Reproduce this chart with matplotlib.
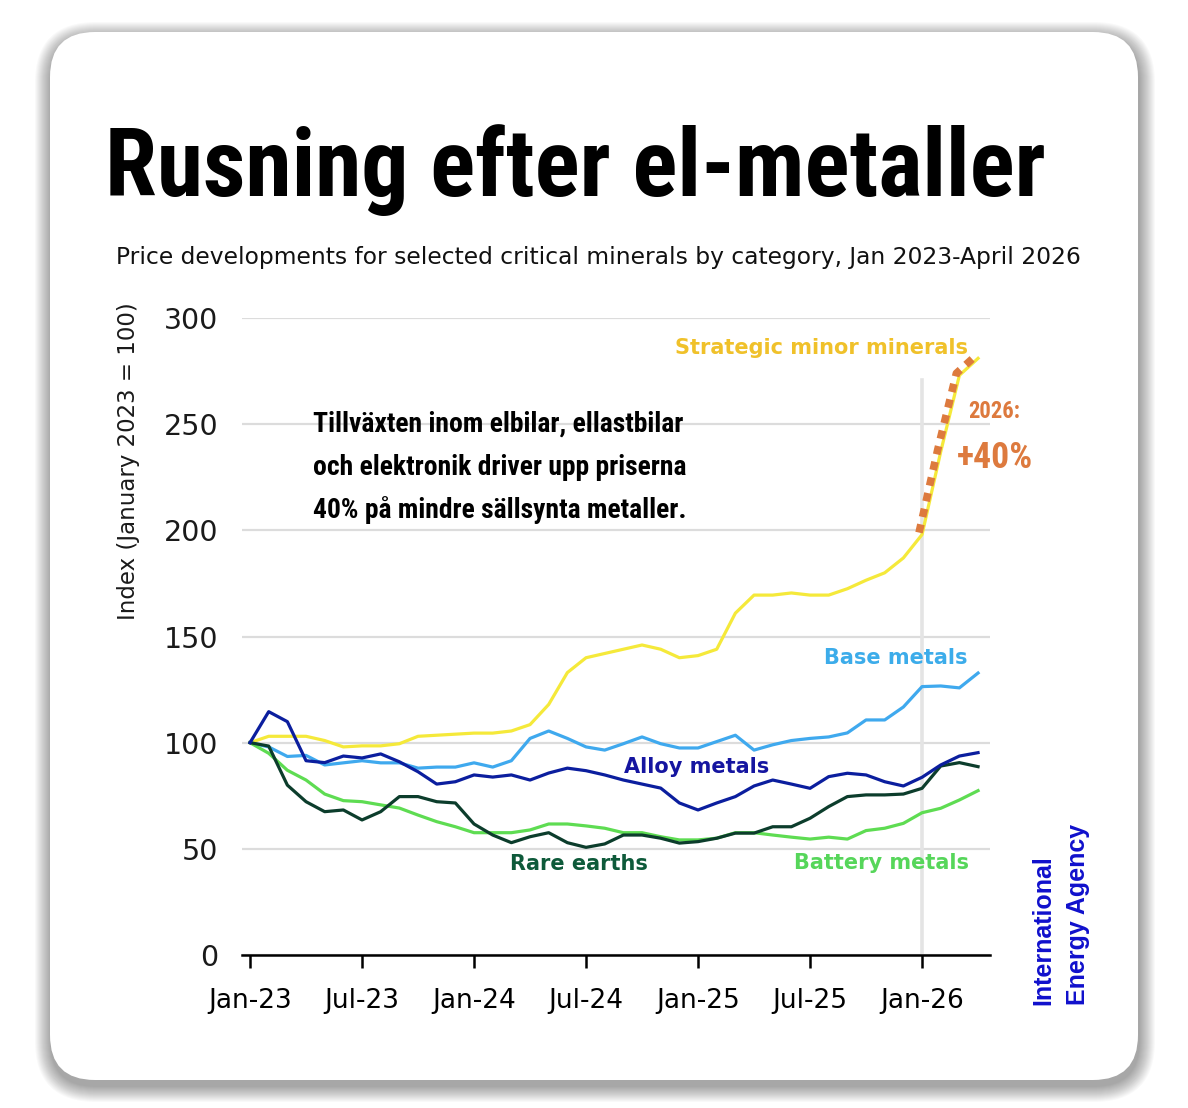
import os
import numpy as np
import matplotlib
matplotlib.use("Agg")
import matplotlib.pyplot as plt
from matplotlib import font_manager as fm
from matplotlib.patches import FancyBboxPatch
from matplotlib.transforms import offset_copy

# index values, Jan 2023 = 100, one per month Jan-23 .. Apr-26
strategic = [100, 103, 103, 103, 101, 98, 98.5, 98.5, 99.5, 103,
             103.5, 104, 104.5, 104.5, 105.5, 108.5, 118, 133, 140, 142,
             144, 146, 144, 140, 141, 144, 161, 169.5, 169.5, 170.5,
             169.5, 169.5, 172.5, 176.5, 180, 187, 198, 237, 273, 281]
base = [100, 98, 93.5, 94, 89.5, 90.5, 91.5, 90.5, 90.5, 88,
        88.5, 88.5, 90.5, 88.5, 91.5, 102, 105.5, 102, 98, 96.5,
        99.5, 102.7, 99.5, 97.5, 97.5, 100.5, 103.5, 96.5, 99, 101,
        102, 102.7, 104.6, 110.7, 110.7, 116.8, 126.4, 126.7, 125.8, 132.8]
alloy = [100, 114.6, 109.9, 91.5, 90.6, 93.7, 92.8, 94.7, 91, 86.3,
         80.5, 81.6, 84.8, 83.8, 84.8, 82.4, 85.7, 88, 86.8, 84.8,
         82.4, 80.5, 78.6, 71.6, 68.3, 71.6, 74.6, 79.6, 82.4, 80.5,
         78.5, 84, 85.6, 84.8, 81.6, 79.6, 83.7, 89.5, 93.7, 95.3]
rare = [100, 98.4, 80, 72.2, 67.5, 68.3, 63.6, 67.5, 74.6, 74.6,
        72.2, 71.6, 61.7, 56.5, 52.9, 55.7, 57.6, 52.9, 50.7, 52.3,
        56.5, 56.5, 55, 52.7, 53.4, 55, 57.4, 57.4, 60.4, 60.4,
        64.4, 69.9, 74.6, 75.4, 75.4, 75.8, 78.5, 89, 90.6, 88.7]
battery = [100, 95, 87, 82.4, 75.8, 72.7, 72.2, 70.7, 69.2, 65.9,
           62.8, 60.4, 57.6, 57.6, 57.6, 58.9, 61.7, 61.7, 60.8, 59.7,
           57.6, 57.6, 55.7, 54.2, 54.2, 55, 57.6, 57.6, 56.5, 55.5,
           54.6, 55.5, 54.6, 58.6, 59.7, 62, 67, 69.1, 73, 77.4]

tick_pos = [0, 6, 12, 18, 24, 30, 36]
tick_labels = ["Jan-23", "Jul-23", "Jan-24", "Jul-24", "Jan-25", "Jul-25", "Jan-26"]
jan26 = 36

title = "Rusning efter el-metaller"
subtitle = "Price developments for selected critical minerals by category, Jan 2023-April 2026"
note = ["Tillväxten inom elbilar, ellastbilar",
        "och elektronik driver upp priserna",
        "40% på mindre sällsynta metaller."]


def find_condensed():
    wanted = ["notosans-extracondensedbold", "robotocondensed-bold",
              "liberationsansnarrow-bold", "notosans-condensedbold",
              "dejavusanscondensed-bold", "opensans-condensedbold"]
    files = {os.path.splitext(os.path.basename(f.fname))[0].lower(): f.fname
             for f in fm.fontManager.ttflist}
    for w in wanted:
        if w in files:
            return fm.FontProperties(fname=files[w])
    for k, p in files.items():
        if "condensed" in k and k.endswith("bold") and "semi" not in k and "extrabold" not in k:
            return fm.FontProperties(fname=p)
    return fm.FontProperties(family="DejaVu Sans", weight="bold")


cond = find_condensed()

W, H = 1188, 1108
fig = plt.figure(figsize=(W / 100, H / 100), dpi=100)
fig.patch.set_facecolor("white")

# card + soft shadow, drawn in pixel coords
bg = fig.add_axes([0, 0, 1, 1], zorder=0)
bg.set_xlim(0, W)
bg.set_ylim(H, 0)
bg.axis("off")
cx, cy, cw, ch = 50, 32, 1088, 1048
for k in range(16, 0, -1):
    bg.add_patch(FancyBboxPatch((cx - k + 1, cy - k + 6), cw + 2 * k, ch + 2 * k,
                                boxstyle="round,pad=0,rounding_size=%d" % (45 + k),
                                fc="black", ec="none", alpha=0.022))
bg.add_patch(FancyBboxPatch((cx, cy), cw, ch, boxstyle="round,pad=0,rounding_size=45",
                            fc="white", ec="none"))

ax = fig.add_axes([242 / W, 1 - 955 / H, (990 - 242) / W, (955 - 318) / H], zorder=1)
ax.set_facecolor("none")

# overlay for the texts so they sit above the grid
top = fig.add_axes([0, 0, 1, 1], zorder=2)
top.set_xlim(0, W)
top.set_ylim(H, 0)
top.axis("off")
top.patch.set_alpha(0)

x = np.arange(len(strategic))
ax.yaxis.grid(True, color="#dcdcdc", lw=1.6)
ax.set_axisbelow(True)
ax.axvline(jan26, ymin=0, ymax=271 / 300, color="#e4e4e4", lw=2.6, zorder=1)

lw = 2.3
ax.plot(x, strategic, color="#f5e93a", lw=lw, zorder=3, clip_on=False)
ax.plot(x, base, color="#3fa9ee", lw=lw, zorder=3)
ax.plot(x, battery, color="#5edc52", lw=lw, zorder=3)
ax.plot(x, rare, color="#0c3d2c", lw=lw, zorder=3)
ax.plot(x, alloy, color="#0b1e9e", lw=lw, zorder=4)

# dotted highlight of the 2026 jump
hl = offset_copy(ax.transData, fig=fig, x=-3, y=2, units="dots")
ax.plot(x[jan26:], strategic[jan26:], color="#dd7a3e", lw=5.5, ls=(0, (1.1, 1.0)),
        dash_capstyle="butt", transform=hl, zorder=5, clip_on=False)

ax.set_xlim(-0.43, 39.64)
ax.set_ylim(0, 300)
ax.set_yticks([0, 50, 100, 150, 200, 250, 300])
ax.set_xticks(tick_pos)
ax.set_xticklabels(tick_labels)
for s in ["top", "right", "left"]:
    ax.spines[s].set_visible(False)
ax.spines["bottom"].set_linewidth(1.8)
ax.spines["bottom"].set_zorder(6)
ax.tick_params(axis="x", length=9, width=1.8, pad=15, labelsize=19, colors="black")
ax.tick_params(axis="y", length=0, pad=17, labelsize=20.5, colors="#1a1a1a")
ax.set_ylabel("Index (January 2023 = 100)", fontsize=16.5, color="#1a1a1a",
              ha="center", va="center")
ax.yaxis.set_label_coords(-0.152, 0.775)

lab = dict(fontsize=15, fontweight="bold", zorder=6)
ax.text(38.46, 286, "Strategic minor minerals", color="#f0c12a", ha="right", va="center", **lab)
ax.text(38.46, 140, "Base metals", color="#3cacea", ha="right", va="center", **lab)
ax.text(23.9, 88.5, "Alloy metals", color="#1515a0", ha="center", va="center", **lab)
ax.text(17.6, 43, "Rare earths", color="#0e5a3a", ha="center", va="center", **lab)
ax.text(38.5, 43.3, "Battery metals", color="#56d65a", ha="right", va="center", **lab)

renderer = fig.canvas.get_renderer()


def fit(t, width):
    w = t.get_window_extent(renderer).width
    t.set_fontsize(t.get_fontsize() * width / w)


t = top.text(105, 196, title, fontproperties=cond, fontsize=80, color="black",
             ha="left", va="baseline")
fit(t, 940)
t = top.text(116, 264, subtitle, fontsize=15, color="#111111", ha="left", va="baseline",
             family="DejaVu Sans")
fit(t, 967)

lines = []
for i, s in enumerate(note):
    lines.append(top.text(313, 432 + 43 * i, s, fontproperties=cond, fontsize=22,
                          color="black", ha="left", va="baseline"))
w2 = lines[1].get_window_extent(renderer).width
for l in lines:
    l.set_fontsize(22 * 375 / w2)

t = top.text(968, 418, "2026:", fontproperties=cond, fontsize=18, color="#dd7a3e",
             ha="left", va="baseline")
fit(t, 52)
t = top.text(957, 468, "+40%", fontproperties=cond, fontsize=30, color="#dd7a3e",
             ha="left", va="baseline")
fit(t, 76)

iea = dict(fontsize=18, fontweight="bold", color="#1010cc", rotation=90,
           ha="center", va="bottom", family=["Liberation Sans", "DejaVu Sans"])
top.text(1043, 1005, "International", **iea)
top.text(1078, 1005, "Energy Agency", **iea)

fig.savefig("out.png", dpi=100, facecolor="white")
